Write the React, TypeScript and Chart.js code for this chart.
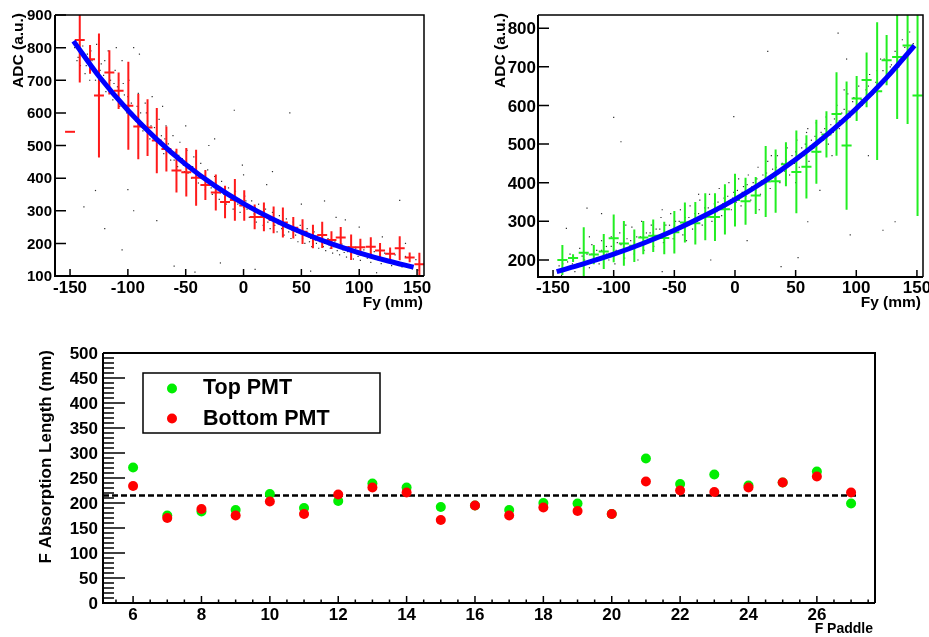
import React, { useEffect, useRef } from 'react';
import { Chart, registerables } from 'chart.js';

Chart.register(...registerables);

const FONT = '"Liberation Sans", Arial, Helvetica, sans-serif';

// ---------------- Top-left panel (red profile) ----------------
const TL_BIN_X = [-150, -141.6, -132.7, -125, -116, -108, -99.6, -91, -83, -75, -66.7, -58, -49.5, -41, -33, -24, -16, -7.5, 0.6, 9.6, 17.6, 26, 34, 43, 51, 60, 68, 76, 84, 93, 101, 110, 118, 126.7, 135, 143.6, 152];
const TL_MEAN = [542, 823, 764, 653, 724, 668, 622, 558, 555, 515, 489, 423, 418, 401, 379, 356, 327, 333, 316, 281, 281, 272, 264, 248, 236, 221, 226, 210, 218, 188, 188, 190, 178, 168, 185, 157, 136];
const TL_ERR = [0, 130, 44, 190, 68, 56, 135, 100, 87, 100, 69, 67, 74, 86, 46, 55, 50, 64, 47, 38, 44, 41, 46, 33, 38, 36, 40, 27, 32, 39, 26, 29, 23, 19, 37, 15, 35];
const TL_HALF_BIN = 4.3;
const TL_CURVE_X = [-147, -125, -100, -75, -50, -25, 0, 25, 50, 75, 100, 125, 147];
const TL_CURVE_Y = [820, 712, 608, 519, 442, 377, 322, 275, 234, 200, 171, 146, 127];
const TL_DOTS = [
  [-146, 800], [-143, 770], [-141, 745], [-139, 805], [-137, 720], [-135, 780], [-133, 700], [-131, 760], [-129, 735], [-127, 810],
  [-125, 690], [-123, 750], [-121, 715], [-119, 665], [-117, 790], [-115, 700], [-113, 640], [-111, 730], [-109, 680], [-107, 620],
  [-105, 760], [-103, 655], [-101, 600], [-99, 700], [-97, 630], [-95, 800], [-93, 575], [-91, 660], [-89, 600], [-87, 545],
  [-85, 630], [-83, 575], [-81, 520], [-79, 650], [-77, 555], [-75, 500], [-73, 580], [-71, 530], [-69, 475], [-67, 560],
  [-65, 505], [-63, 455], [-61, 530], [-59, 480], [-57, 435], [-55, 510], [-53, 460], [-51, 420], [-49, 485], [-47, 440],
  [-45, 400], [-43, 465], [-41, 420], [-39, 385], [-37, 445], [-35, 400], [-33, 365], [-31, 425], [-29, 380], [-27, 350],
  [-25, 405], [-23, 365], [-21, 335], [-19, 390], [-17, 350], [-15, 320], [-13, 370], [-11, 335], [-9, 305], [-7, 360],
  [-5, 320], [-3, 295], [-1, 440], [1, 345], [3, 305], [5, 280], [7, 330], [9, 290], [11, 265], [13, 320],
  [15, 280], [17, 255], [19, 305], [21, 265], [23, 245], [25, 295], [27, 255], [29, 235], [31, 285], [33, 245],
  [35, 225], [37, 275], [39, 235], [41, 215], [43, 265], [45, 225], [47, 205], [49, 255], [51, 215], [53, 200],
  [55, 245], [57, 205], [59, 190], [61, 235], [63, 200], [65, 185], [67, 225], [69, 190], [71, 178], [73, 215],
  [75, 185], [77, 170], [79, 205], [81, 178], [83, 165], [85, 198], [87, 172], [89, 158], [91, 190], [93, 165],
  [95, 152], [97, 185], [99, 160], [101, 148], [104, 180], [107, 155], [110, 142], [113, 175], [116, 150], [119, 138],
  [122, 170], [125, 145], [128, 132], [131, 165], [134, 140], [137, 128], [140, 160], [143, 135], [146, 122], [149, 150],
  [151, 118], [-128, 362], [-138, 312], [-120, 245], [-100, 365], [-95, 300], [-75, 270], [-60, 130], [-42, 112], [-8, 608],
  [-20, 140], [10, 120], [58, 115], [88, 272], [135, 332], [40, 600], [-25, 520], [-105, 180], [115, 110], [25, 420], [70, 330],
  [-144, 760], [-140, 790], [-136, 745], [-132, 790], [-128, 700], [-124, 730], [-120, 760], [-116, 725], [-112, 690], [-108, 700],
  [-104, 690], [-100, 650], [-96, 600], [-92, 620], [-88, 570], [-84, 600], [-80, 560], [-76, 530], [-72, 510], [-68, 520],
  [-64, 480], [-60, 455], [-56, 470], [-52, 440], [-48, 415], [-44, 435], [-40, 410], [-36, 380], [-32, 395], [-28, 370],
  [-24, 385], [-20, 355], [-16, 340], [-12, 350], [-8, 330], [-4, 335], [0, 310], [2, 330], [6, 305], [10, 310],
  [14, 295], [18, 285], [22, 275], [26, 270], [30, 260], [34, 255], [38, 250], [42, 240], [46, 235], [50, 230],
  [54, 225], [58, 215], [62, 210], [66, 205], [70, 200], [74, 195], [78, 190], [82, 188], [86, 180], [90, 175],
  [94, 172], [98, 168], [102, 165], [106, 162], [110, 158], [114, 155], [118, 150], [122, 145], [126, 142], [130, 138],
  [134, 135], [138, 130], [142, 128], [146, 126], [-90, 780], [-110, 800], [-70, 620], [-50, 560], [-30, 500], [0, 410],
  [20, 380], [50, 320], [80, 280], [100, 250], [120, 220], [140, 200],
];
const TL_X_TICKS = [-150, -100, -50, 0, 50, 100, 150];
const TL_Y_TICKS = [100, 200, 300, 400, 500, 600, 700, 800, 900];

// ---------------- Top-right panel (green profile) ----------------
const TR_BIN_X = [-142.3, -133.5, -124.7, -116.4, -108.2, -100, -91.6, -83, -75.6, -67.4, -58.3, -50, -41.3, -32.7, -24.5, -16.5, -8.3, 0, 8.7, 17.1, 25.3, 33.5, 42, 50.6, 58.9, 67.1, 75.4, 83.7, 92, 100.3, 108.5, 117.2, 125, 133.7, 142.3, 150.5];
const TR_MEAN = [200, 205, 219, 214, 222, 256, 243, 237, 258, 263, 257, 272, 297, 295, 312, 311, 331, 355, 352, 367, 403, 404, 448, 428, 441, 480, 525, 578, 496, 618, 666, 637, 717, 725, 755, 626];
const TR_ERR = [39, 10, 66, 25, 45, 62, 58, 42, 43, 42, 42, 55, 52, 55, 61, 62, 65, 68, 61, 48, 92, 82, 57, 107, 82, 83, 60, 108, 166, 58, 71, 178, 65, 160, 203, 312];
const TR_HALF_BIN = 4.15;
const TR_CURVE_X = [-147, -125, -100, -75, -50, -25, 0, 25, 50, 75, 100, 125, 148];
const TR_CURVE_Y = [170, 190, 215, 244, 277, 315, 357, 405, 460, 522, 592, 672, 755];
const TR_DOTS = [
  [-145, 185], [-143, 160], [-140, 200], [-138, 175], [-136, 215], [-134, 190], [-132, 170], [-130, 205], [-128, 230], [-126, 185],
  [-124, 200], [-122, 215], [-120, 180], [-118, 240], [-116, 200], [-114, 225], [-112, 190], [-110, 250], [-108, 210], [-106, 235],
  [-104, 200], [-102, 260], [-100, 220], [-99, 190], [-97, 245], [-95, 270], [-93, 225], [-91, 205], [-89, 255], [-87, 235],
  [-85, 285], [-83, 215], [-81, 260], [-79, 240], [-77, 300], [-75, 225], [-73, 270], [-71, 250], [-69, 290], [-67, 235],
  [-65, 280], [-63, 260], [-61, 310], [-59, 245], [-57, 290], [-55, 270], [-53, 320], [-51, 255], [-49, 300], [-47, 280],
  [-45, 330], [-43, 265], [-41, 310], [-39, 290], [-37, 340], [-35, 280], [-33, 320], [-31, 300], [-29, 355], [-27, 290],
  [-25, 335], [-23, 315], [-21, 370], [-19, 300], [-17, 345], [-15, 325], [-13, 385], [-11, 315], [-9, 360], [-7, 340],
  [-5, 400], [-3, 330], [-1, 375], [1, 350], [3, 410], [5, 340], [7, 390], [9, 365], [11, 420], [13, 355],
  [15, 400], [17, 380], [19, 440], [21, 370], [23, 420], [25, 395], [27, 455], [29, 385], [31, 435], [33, 410],
  [35, 470], [37, 400], [39, 450], [41, 430], [43, 490], [45, 420], [47, 470], [49, 450], [51, 510], [53, 440],
  [55, 490], [57, 470], [59, 530], [61, 455], [63, 510], [65, 490], [67, 555], [69, 480], [71, 530], [73, 510],
  [75, 570], [77, 500], [79, 550], [81, 530], [84, 600], [86, 540], [88, 580], [90, 560], [93, 630], [95, 570],
  [97, 610], [100, 590], [102, 650], [105, 600], [108, 640], [111, 680], [114, 630], [117, 690], [120, 660], [123, 720],
  [126, 670], [129, 705], [132, 740], [135, 700], [138, 770], [141, 730], [144, 790], [147, 760],
  [-139, 282], [-122, 334], [-100, 569], [-94, 506], [-1, 571], [27, 740], [85, 787], [92, 720], [95, 265], [122, 277],
  [132, 299], [60, 299], [52, 206], [38, 183], [-60, 170], [-20, 200], [10, 250], [70, 380], [110, 470], [-110, 320],
  [-146, 175], [-142, 190], [-138, 195], [-134, 205], [-130, 190], [-126, 210], [-122, 195], [-118, 215], [-114, 205], [-110, 225],
  [-106, 215], [-102, 235], [-98, 225], [-94, 240], [-90, 230], [-86, 250], [-82, 240], [-78, 260], [-74, 250], [-70, 270],
  [-66, 260], [-62, 280], [-58, 270], [-54, 290], [-50, 285], [-46, 300], [-42, 295], [-38, 310], [-34, 305], [-30, 320],
  [-26, 315], [-22, 335], [-18, 330], [-14, 350], [-10, 345], [-6, 365], [-2, 360], [2, 380], [6, 375], [10, 395],
  [14, 390], [18, 410], [22, 405], [26, 425], [30, 420], [34, 440], [38, 435], [42, 460], [46, 455], [50, 480],
  [54, 475], [58, 500], [62, 495], [66, 520], [70, 515], [74, 540], [78, 535], [82, 565], [86, 560], [90, 590],
  [94, 585], [98, 620], [104, 615], [110, 650], [116, 660], [122, 690], [128, 700], [134, 720], [140, 750], [-120, 260],
  [-90, 290], [-60, 330], [-30, 370], [0, 420], [30, 470], [60, 540], [90, 640], [120, 720], [-80, 200], [-40, 250],
  [20, 330], [50, 400], [80, 470],
];
const TR_X_TICKS = [-150, -100, -50, 0, 50, 100, 150];
const TR_Y_TICKS = [200, 300, 400, 500, 600, 700, 800];

// ---------------- Bottom panel (absorption length per paddle) ----------------
const PADDLES = [6, 7, 8, 9, 10, 11, 12, 13, 14, 15, 16, 17, 18, 19, 20, 21, 22, 23, 24, 25, 26, 27];
const TOP_PMT = [271, 175, 183, 186, 218, 190, 204, 239, 231, 192, 195, 186, 200, 199, 178, 289, 238, 257, 235, 241, 263, 199];
const BOTTOM_PMT = [234, 170, 188, 175, 203, 178, 217, 231, 221, 166, 195, 175, 191, 184, 178, 243, 225, 222, 231, 241, 253, 221];
const MEAN_LENGTH = 215;
const MEAN_LINE_END = 27.2;
const B_X_TICKS = [6, 8, 10, 12, 14, 16, 18, 20, 22, 24, 26];
const B_Y_TICKS = [0, 50, 100, 150, 200, 250, 300, 350, 400, 450, 500];
const B_X_MIN = 5.12;
const B_X_MAX = 27.7;

const minorRange = (from: number, to: number, step: number, skip: number[]) => {
  const out: number[] = [];
  for (let v = from; v <= to + 1e-9; v += step) {
    const r = Math.round(v * 100) / 100;
    if (!skip.includes(r)) out.push(r);
  }
  return out;
};

const rootPlugin: any = {
  id: 'rootStyle',
  afterDatasetDraw(chart: any, args: any) {
    const ds: any = chart.data.datasets[args.index];
    if (!ds.errors) return;
    const xs = chart.scales.x, ys = chart.scales.y, a = chart.chartArea, ctx = chart.ctx;
    ctx.save();
    ctx.beginPath();
    ctx.rect(a.left, a.top, a.right - a.left, a.bottom - a.top);
    ctx.clip();
    ctx.strokeStyle = ds.errColor;
    ctx.lineWidth = 2;
    ds.data.forEach((p: any, i: number) => {
      const e = ds.errors[i];
      const px = xs.getPixelForValue(p.x);
      const py = ys.getPixelForValue(p.y);
      ctx.beginPath();
      ctx.moveTo(xs.getPixelForValue(p.x - ds.halfWidth), py);
      ctx.lineTo(xs.getPixelForValue(p.x + ds.halfWidth), py);
      if (e > 0) {
        ctx.moveTo(px, ys.getPixelForValue(p.y + e));
        ctx.lineTo(px, ys.getPixelForValue(p.y - e));
      }
      ctx.stroke();
    });
    ctx.restore();
  },
  afterDraw(chart: any, _args: any, o: any) {
    if (!o || !o.xTicks) return;
    const ctx = chart.ctx, a = chart.chartArea, xs = chart.scales.x, ys = chart.scales.y;
    ctx.save();
    ctx.strokeStyle = '#000';
    ctx.fillStyle = '#000';
    // frame
    ctx.lineWidth = o.frameThin;
    ctx.beginPath();
    ctx.moveTo(a.left, a.top);
    ctx.lineTo(a.right, a.top);
    ctx.lineTo(a.right, a.bottom);
    ctx.stroke();
    ctx.lineWidth = o.frameThick;
    ctx.beginPath();
    ctx.moveTo(a.left, a.top);
    ctx.lineTo(a.left, a.bottom);
    ctx.lineTo(a.right, a.bottom);
    ctx.stroke();
    // inward ticks
    ctx.lineWidth = 1.5;
    ctx.beginPath();
    const xt = (v: number, len: number) => {
      const px = xs.getPixelForValue(v);
      ctx.moveTo(px, a.bottom);
      ctx.lineTo(px, a.bottom - len);
    };
    const yt = (v: number, len: number) => {
      const py = ys.getPixelForValue(v);
      ctx.moveTo(a.left, py);
      ctx.lineTo(a.left + len, py);
    };
    o.xTicks.forEach((v: number) => xt(v, o.xMajorLen));
    (o.xMinor || []).forEach((v: number) => xt(v, o.xMinorLen));
    o.yTicks.forEach((v: number) => yt(v, o.yMajorLen));
    (o.yMinor || []).forEach((v: number) => yt(v, o.yMinorLen));
    ctx.stroke();
    // tick labels
    ctx.textBaseline = 'alphabetic';
    ctx.font = `bold ${o.xFontSize}px ${FONT}`;
    ctx.textAlign = 'center';
    o.xTicks.forEach((v: number) => ctx.fillText(String(v), xs.getPixelForValue(v), o.xLabelBaseline));
    ctx.font = `bold ${o.yFontSize}px ${FONT}`;
    ctx.textAlign = 'right';
    o.yTicks.forEach((v: number) =>
      ctx.fillText(String(v), a.left - o.yLabelPad, ys.getPixelForValue(v) + 0.358 * o.yFontSize)
    );
    // axis titles
    ctx.font = `bold ${o.xTitle.size}px ${FONT}`;
    ctx.textAlign = 'right';
    ctx.fillText(o.xTitle.text, o.xTitle.x, o.xTitle.y);
    ctx.save();
    ctx.translate(o.yTitle.x, o.yTitle.y);
    ctx.rotate(-Math.PI / 2);
    ctx.font = `bold ${o.yTitle.size}px ${FONT}`;
    ctx.textAlign = 'right';
    ctx.fillText(o.yTitle.text, 0, 0);
    ctx.restore();
    // legend
    if (o.legend) {
      const L = o.legend;
      ctx.fillStyle = '#fff';
      ctx.fillRect(L.x, L.y, L.w, L.h);
      ctx.lineWidth = 1.5;
      ctx.strokeStyle = '#000';
      ctx.strokeRect(L.x, L.y, L.w, L.h);
      L.items.forEach((it: any) => {
        ctx.fillStyle = it.color;
        ctx.beginPath();
        ctx.arc(L.markerX, it.markerY, 5, 0, Math.PI * 2);
        ctx.fill();
        ctx.fillStyle = '#000';
        ctx.font = `bold ${L.fontSize}px ${FONT}`;
        ctx.textAlign = 'left';
        ctx.fillText(it.label, L.textX, it.textY);
      });
    }
    ctx.restore();
  },
};

const scales = (xmin: number, xmax: number, ymin: number, ymax: number, leftW: number, bottomH: number) => ({
  x: {
    type: 'linear', min: xmin, max: xmax,
    ticks: { display: false }, grid: { display: false }, border: { display: false },
    afterFit: (s: any) => { s.height = bottomH; s.paddingLeft = 0; s.paddingRight = 0; },
  },
  y: {
    type: 'linear', min: ymin, max: ymax,
    ticks: { display: false }, grid: { display: false }, border: { display: false },
    afterFit: (s: any) => { s.width = leftW; s.paddingTop = 0; s.paddingBottom = 0; },
  },
});

const baseOptions = (padding: any, sc: any, root: any) => ({
  responsive: false,
  animation: false,
  devicePixelRatio: 1,
  events: [],
  layout: { padding },
  scales: sc,
  plugins: { legend: { display: false }, tooltip: { enabled: false }, rootStyle: root },
});

const profileConfig = (
  dots: number[][], binX: number[], mean: number[], err: number[], half: number,
  cx: number[], cy: number[], errColor: string
) => [
  {
    label: 'fit', data: cx.map((x, i) => ({ x, y: cy[i] })), showLine: true,
    borderColor: '#0000ff', borderWidth: 5, pointRadius: 0, cubicInterpolationMode: 'monotone', order: 0,
  },
  {
    label: 'profile', data: binX.map((x, i) => ({ x, y: mean[i] })), errors: err, halfWidth: half,
    errColor, pointRadius: 0, showLine: false, order: 1,
  },
  {
    label: 'events', data: dots.map(([x, y]) => ({ x, y })), pointStyle: 'rect', pointRadius: 0.85,
    backgroundColor: 'rgba(25,25,25,0.9)', borderWidth: 0, order: 2,
  },
];

const tlConfig = () => ({
  type: 'scatter',
  data: { datasets: profileConfig(TL_DOTS, TL_BIN_X, TL_MEAN, TL_ERR, TL_HALF_BIN, TL_CURVE_X, TL_CURVE_Y, '#ff1a1a') },
  options: baseOptions(
    { left: 0, top: 15, right: 40, bottom: 0 },
    scales(-163, 156, 100, 900, 55, 42),
    {
      xTicks: TL_X_TICKS, yTicks: TL_Y_TICKS, xMajorLen: 7, yMajorLen: 11,
      xFontSize: 17, yFontSize: 15, xLabelBaseline: 293, yLabelPad: 3,
      frameThin: 1.5, frameThick: 2,
      xTitle: { text: 'Fy (mm)', size: 15.5, x: 423, y: 307 },
      yTitle: { text: 'ADC (a.u.)', size: 15.5, x: 23, y: 13 },
    }
  ),
  plugins: [rootPlugin],
});

const trConfig = () => ({
  type: 'scatter',
  data: { datasets: profileConfig(TR_DOTS, TR_BIN_X, TR_MEAN, TR_ERR, TR_HALF_BIN, TR_CURVE_X, TR_CURVE_Y, '#22ee22') },
  options: baseOptions(
    { left: 0, top: 15, right: 6, bottom: 0 },
    scales(-162.4, 155, 156, 834, 74, 41),
    {
      xTicks: TR_X_TICKS, yTicks: TR_Y_TICKS, xMajorLen: 7, yMajorLen: 11,
      xFontSize: 17, yFontSize: 17, xLabelBaseline: 293, yLabelPad: 2,
      frameThin: 1.5, frameThick: 2,
      xTitle: { text: 'Fy (mm)', size: 15.5, x: 457, y: 307 },
      yTitle: { text: 'ADC (a.u.)', size: 15.5, x: 41, y: 13 },
    }
  ),
  plugins: [rootPlugin],
});

const bConfig = () => ({
  type: 'scatter',
  data: {
    datasets: [
      {
        label: 'Bottom PMT', data: PADDLES.map((x, i) => ({ x, y: BOTTOM_PMT[i] })),
        pointRadius: 5, backgroundColor: '#ff0000', borderWidth: 0, order: 0,
      },
      {
        label: 'Top PMT', data: PADDLES.map((x, i) => ({ x, y: TOP_PMT[i] })),
        pointRadius: 5, backgroundColor: '#00ee00', borderWidth: 0, order: 1,
      },
      {
        label: 'mean', data: [{ x: B_X_MIN, y: MEAN_LENGTH }, { x: MEAN_LINE_END, y: MEAN_LENGTH }],
        showLine: true, borderColor: '#000', borderWidth: 2.5, borderDash: [6, 3], pointRadius: 0, order: 2,
      },
    ],
  },
  options: baseOptions(
    { left: 0, top: 35, right: 54, bottom: 0 },
    scales(B_X_MIN, B_X_MAX, 0, 500, 103, 34),
    {
      xTicks: B_X_TICKS, yTicks: B_Y_TICKS,
      xMinor: minorRange(5.5, 27.5, 0.5, B_X_TICKS),
      yMinor: minorRange(0, 500, 10, B_Y_TICKS),
      xMajorLen: 7, xMinorLen: 3.5, yMajorLen: 22, yMinorLen: 11,
      xFontSize: 17, yFontSize: 17, xLabelBaseline: 302, yLabelPad: 5,
      frameThin: 2, frameThick: 2,
      xTitle: { text: 'F Paddle', size: 14, x: 873, y: 315 },
      yTitle: { text: 'F Absorption Length (mm)', size: 17, x: 51, y: 32 },
      legend: {
        x: 143, y: 55, w: 237, h: 60, markerX: 172, textX: 203, fontSize: 21.5,
        items: [
          { label: 'Top PMT', color: '#00ee00', markerY: 70.5, textY: 75.5 },
          { label: 'Bottom PMT', color: '#ff0000', markerY: 100.5, textY: 107 },
        ],
      },
    }
  ),
  plugins: [rootPlugin],
});

function Panel({ left, top, width, height, make }: { left: number; top: number; width: number; height: number; make: () => any }) {
  const ref = useRef<HTMLCanvasElement | null>(null);
  useEffect(() => {
    if (!ref.current) return;
    const chart = new Chart(ref.current, make());
    return () => chart.destroy();
  }, [make]);
  return (
    <canvas
      ref={ref}
      width={width}
      height={height}
      style={{ position: 'absolute', left, top, width, height, display: 'block' }}
    />
  );
}

export default function App() {
  return (
    <div style={{ position: 'absolute', left: 0, top: 0, width: 929, height: 637, background: '#fff', overflow: 'hidden' }}>
      <Panel left={0} top={0} width={464} height={318} make={tlConfig} />
      <Panel left={464} top={0} width={465} height={318} make={trConfig} />
      <Panel left={0} top={318} width={929} height={319} make={bConfig} />
    </div>
  );
}
